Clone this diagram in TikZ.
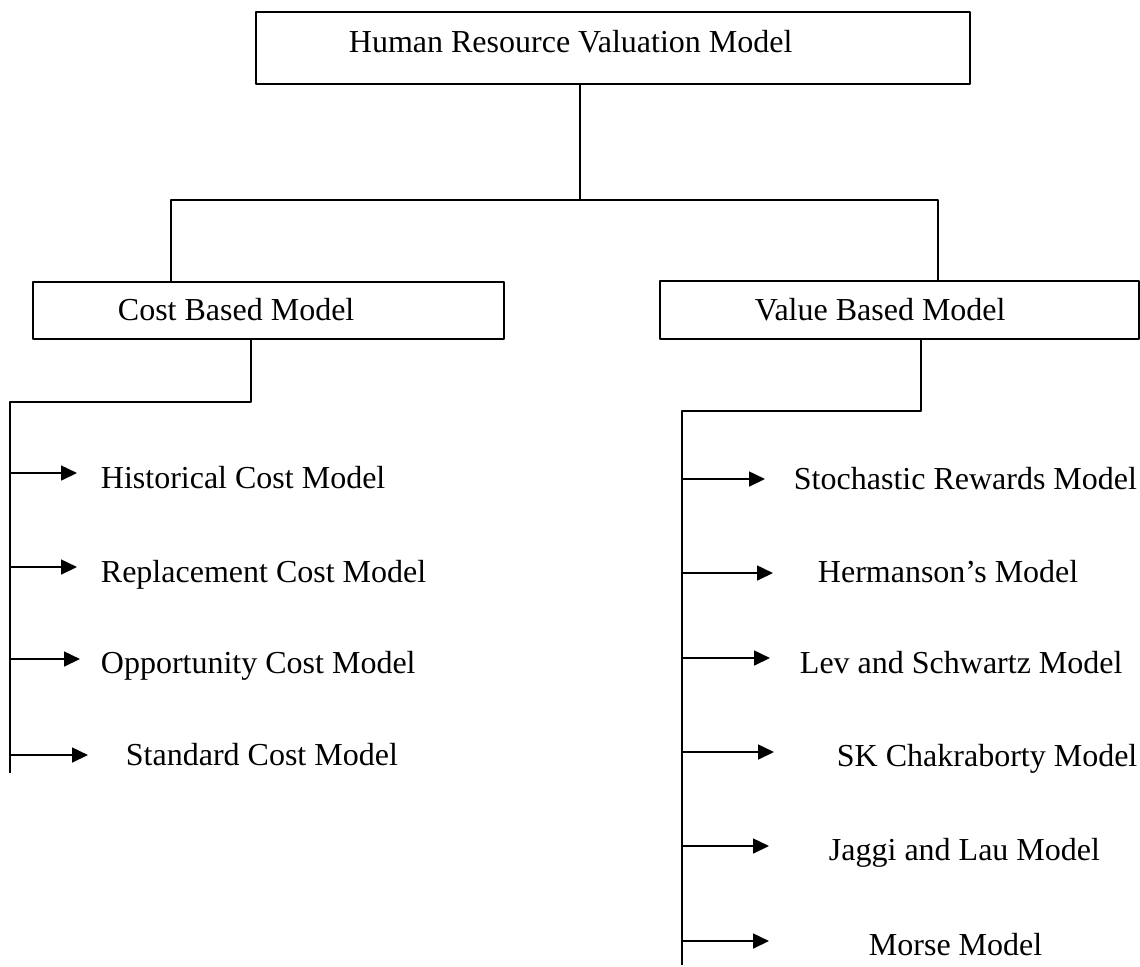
\documentclass[tikz,border=0pt]{standalone}
\usepackage{fontspec}
\setmainfont{Liberation Serif}
\usetikzlibrary{arrows.meta,fit}
\tikzset{
  box/.style={draw,inner sep=0pt,line width=0.7pt},
  lbl/.style={anchor=base west,inner sep=0pt,font=\fontsize{12}{14}\selectfont},
  arr/.style={-{Triangle[length=6pt,width=5.6pt]},line width=0.7pt}
}
\begin{document}
\begin{tikzpicture}[x=0.375pt,y=-0.375pt,line width=0.7pt,line join=round]
\useasboundingbox (0,0) rectangle (1140,966);
% boxes
\node[box,fit={(256,12) (970,84)}] (hrvm) {};
\node[box,fit={(33,282) (504,339)}] (cbm) {};
\node[box,fit={(660,281) (1139,339)}] (vbm) {};
\node[lbl] (hrvmtext) at (348,52) {Human Resource Valuation Model};
\node[lbl] (cbmtext) at (117,320) {Cost Based Model};
\node[lbl] (vbmtext) at (754,320) {Value Based Model};
% top branch
\coordinate (jtop) at (580,200);
\coordinate (jl) at (171,200);
\coordinate (jr) at (938,200);
\draw (hrvm.south -| jtop) -- (jtop);
\draw (cbm.north -| jl) -- (jl) -- (jr) -- (vbm.north -| jr);
% cost side
\coordinate (cj) at (251,402);
\coordinate (lspine) at (10,402);
\coordinate (lend) at (10,773);
\draw (cbm.south -| cj) -- (cj) -- (lspine) -- (lend);
\foreach \nm/\y/\tip/\tx/\by/\txt in {hcm/473/77/100/488/Historical Cost Model,
  rcm/567/77/100/582/Replacement Cost Model,
  ocm/659/80/100/673/Opportunity Cost Model,
  scm/755/88/125/765/Standard Cost Model}
{
  \node[lbl] (\nm) at (\tx,\by) {\txt};
  \coordinate (\nm-tip) at (\tip,\y);
  \draw[arr] (\nm-tip -| lspine) -- (\nm-tip);
}
% value side
\coordinate (vj) at (921,411);
\coordinate (rspine) at (682,411);
\coordinate (rend) at (682,965);
\draw (vbm.south -| vj) -- (vj) -- (rspine) -- (rend);
\foreach \nm/\y/\tip/\tx/\by/\txt in {srm/479/765/793/489/Stochastic Rewards Model,
  hsm/573/773/817/582/Hermanson’s Model,
  lsm/658/770/799/673/Lev and Schwartz Model,
  skm/752/774/836/766/SK Chakraborty Model,
  jlm/846/769/828/860/Jaggi and Lau Model,
  mm/941/769/868/955/Morse Model}
{
  \node[lbl] (\nm) at (\tx,\by) {\txt};
  \coordinate (\nm-tip) at (\tip,\y);
  \draw[arr] (\nm-tip -| rspine) -- (\nm-tip);
}
\end{tikzpicture}
\end{document}
